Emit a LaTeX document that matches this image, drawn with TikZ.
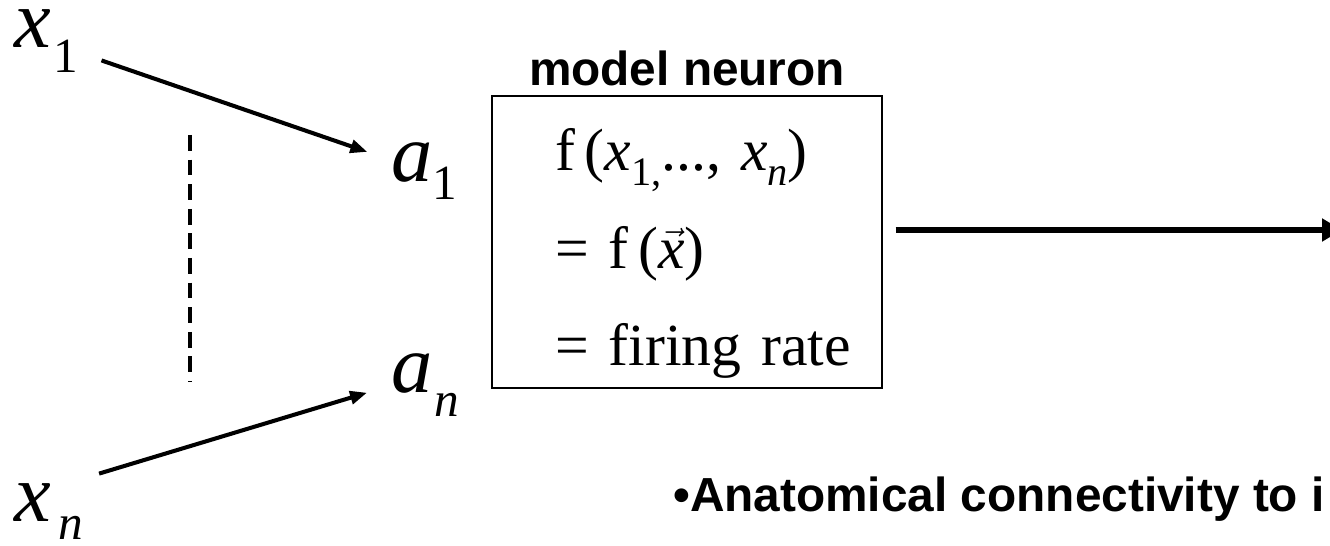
\documentclass[tikz,border=0pt]{standalone}
\usepackage{fontspec}
\setmainfont{Liberation Serif}
\setsansfont{Liberation Sans}
\usetikzlibrary{arrows.meta, positioning}
\newcommand{\lowsub}[2]{\raisebox{-#1}{\fontsize{28}{28}\selectfont #2}}
\newcommand{\smallsub}[1]{\raisebox{-8.5pt}{\fontsize{23}{23}\selectfont #1}}
\tikzset{
	symbol/.style={inner sep=0pt, outer sep=0pt, anchor=base west, font=\fontsize{47}{47}\selectfont\itshape},
	neuron/.style={rectangle, draw, line width=0.8pt, align=left, text width=5.28cm, inner xsep=1.26cm, inner ysep=0pt, minimum width=7.8cm, minimum height=5.84cm, font=\fontsize{34}{55.3}\selectfont},
	heading/.style={inner sep=0pt, font=\sffamily\bfseries\fontsize{27.2}{30}\selectfont},
	inarrow/.style={-{Triangle[length=0.34cm, width=0.26cm]}, line width=2.3pt, shorten <=0.5cm, shorten >=0.5cm},
	outarrow/.style={-{Triangle[length=0.4cm, width=0.44cm]}, line width=3.4pt},
	dotsline/.style={dash pattern=on 9pt off 5pt, line width=2pt},
}
\begin{document}
\begin{tikzpicture}[x=0.02cm, y=-0.02cm]
		\useasboundingbox (0,0) rectangle (1330,546);
		\node[symbol] (x1) at (14,48) {x\kern1.5pt\lowsub{14pt}{\upshape 1}};
		\node[symbol] (xn) at (14,522) {x\kern4.5pt\lowsub{10pt}{n}};
		\node[symbol] (a1) at (391,182) {a\lowsub{10pt}{\upshape 1}};
		\node[symbol] (an) at (391,393) {a\kern1.5pt\lowsub{13.6pt}{n}};
		\node[neuron] (neuron) at (687,242) {\mbox{f\,(\textit{x}\smallsub{1,}..., \textit{x}\smallsub{\textit{n}})}\rule{0pt}{1.3cm}\\
			\mbox{= f\,($\vec{\mbox{\itshape x}}$)}\\
			\mbox{= firing rate}};
		\node[heading, above=0.18cm of neuron] (title) {model neuron};
		\node[heading, anchor=base west] (note) at (673,512) {•Anatomical connectivity to i};
		\coordinate (out) at (1342,230);
		\draw[inarrow] (x1) -- (a1);
		\draw[inarrow] ([xshift=-0.16cm, yshift=0.62cm]xn.east) -- (an.west);
		\draw[outarrow, shorten <=0.26cm] (neuron.east |- out) -- (out);
		\draw[dotsline] (190,135) -- (190,382);
	\end{tikzpicture}
\end{document}
